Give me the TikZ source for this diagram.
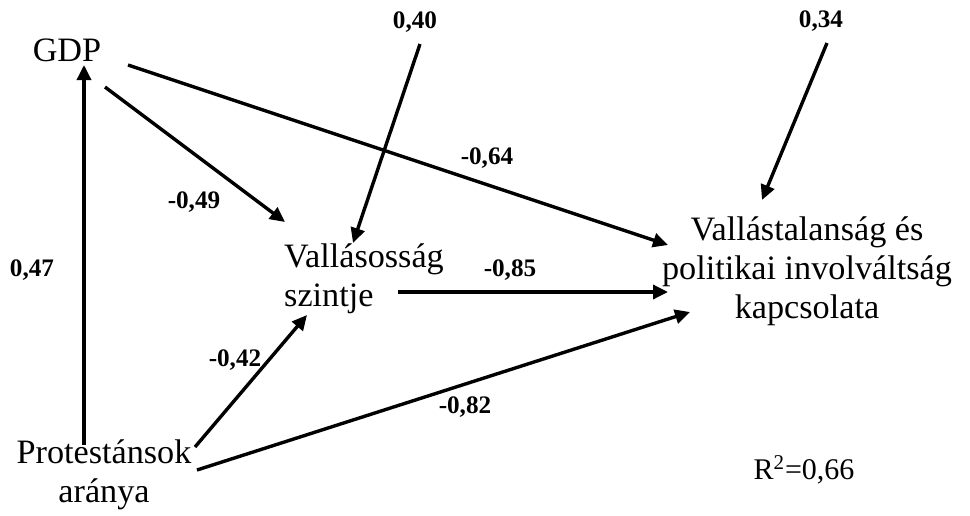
\documentclass[tikz,border=0pt]{standalone}
\usepackage{fontspec}
\setmainfont{Liberation Serif}
\usetikzlibrary{arrows.meta}

\tikzset{
	pfeil/.style={line width=1.7pt, -{Triangle[length=7.5pt,width=7pt]}},
	var/.style={inner sep=0pt, font=\fontsize{17.1}{19.5}\selectfont},
	wert/.style={inner sep=0pt, font=\fontsize{12.6}{14}\selectfont\bfseries}
}

\begin{document}
\begin{tikzpicture}[x=0.5pt, y=-0.5pt]
	\useasboundingbox (0,0) rectangle (970,515);
	% variablen
	\node[var] (gdp) at (67,50) {GDP};
	\node[var, align=left] (vall) at (364,279) {Vallásosság\\szintje};
	\node[var, align=center] (ziel) at (807,271) {Vallástalanság és\\politikai involváltság\\kapcsolata};
	\node[var, align=center] (prot) at (104,475) {Protestánsok\\aránya};
	% fehlerterme
	\node[wert] (e40) at (415,22) {0,40};
	\node[wert] (e34) at (821,21) {0,34};
	\node[font=\fontsize{15}{17}\selectfont, inner sep=0pt] (rq) at (804,470) {R\textsuperscript{2}=0,66};
	% pfade
	\draw[pfeil] ([shift={(-20,-30)}]prot.center) -- ([shift={(17,15)}]gdp.center);
	\draw[pfeil] ([shift={(38,37)}]gdp.center) -- ([shift={(-79,-57)}]vall.center);
	\draw[pfeil] ([shift={(61,15)}]gdp.center) -- ([shift={(-139,-26)}]ziel.center);
	\draw[pfeil] ([shift={(5,22)}]e40.center) -- ([shift={(-11,-36)}]vall.center);
	\draw[pfeil] ([shift={(6,22)}]e34.center) -- ([shift={(-45,-71)}]ziel.center);
	\draw[pfeil] ([shift={(34,13)}]vall.center) -- ([shift={(-139,21)}]ziel.center);
	\draw[pfeil] ([shift={(91,-28)}]prot.center) -- ([shift={(-57,36)}]vall.center);
	\draw[pfeil] ([shift={(93,-5)}]prot.center) -- ([shift={(-117,41)}]ziel.center);
	% koeffizienten
	\node[wert] at (32,270) {0,47};
	\node[wert] at (194,202) {-0,49};
	\node[wert] at (487,158) {-0,64};
	\node[wert] at (510,270) {-0,85};
	\node[wert] at (235,360) {-0,42};
	\node[wert] at (465,407) {-0,82};
\end{tikzpicture}
\end{document}
